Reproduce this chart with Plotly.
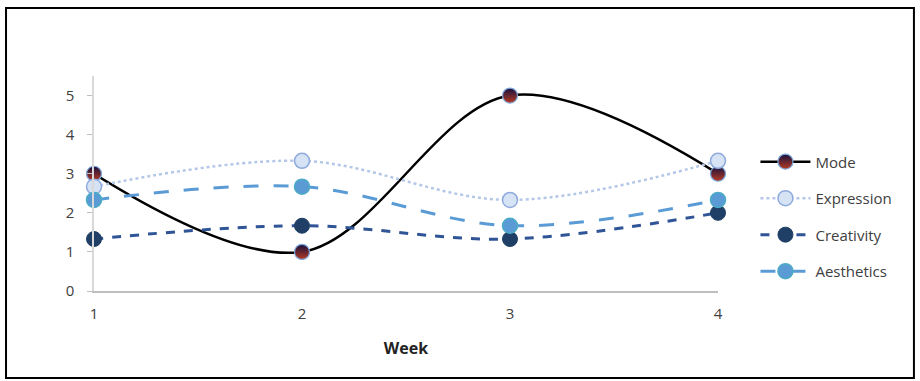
import plotly.graph_objects as go

weeks = [1, 2, 3, 4]
mode = [3, 1, 5, 3]
expression = [2.67, 3.33, 2.33, 3.33]
creativity = [1.33, 1.67, 1.33, 2.0]
aesthetics = [2.33, 2.67, 1.67, 2.33]
y_ticks = [0, 1, 2, 3, 4, 5]

fig = go.Figure()

fig.add_trace(go.Scatter(
    x=weeks, y=mode, name="Mode", mode="lines+markers", legendgroup="a",
    line=dict(color="black", width=2.5, shape="spline", smoothing=1.0),
    marker=dict(size=15, color="#15113f",
                gradient=dict(type="vertical", color="#b83a22"),
                line=dict(color="#7fa8dc", width=1.2)),
))
fig.add_trace(go.Scatter(
    x=weeks, y=expression, name="Expression", mode="lines+markers", legendgroup="b",
    line=dict(color="#b4c7e7", width=2.5, dash="dot", shape="spline", smoothing=1.0),
    marker=dict(size=15, color="#d5e3f5", line=dict(color="#8faadc", width=1.5)),
))
fig.add_trace(go.Scatter(
    x=weeks, y=creativity, name="Creativity", mode="lines+markers", legendgroup="c",
    line=dict(color="#2f5597", width=3, dash="dash", shape="spline", smoothing=1.0),
    marker=dict(size=15, color="#1f3f66", line=dict(color="#1f3f66", width=1)),
))
fig.add_trace(go.Scatter(
    x=weeks, y=aesthetics, name="Aesthetics", mode="lines+markers", legendgroup="d",
    line=dict(color="#5b9bd5", width=3, dash="longdash", shape="spline", smoothing=1.0),
    marker=dict(size=15, color="#5b9bd5", line=dict(color="#4bacc6", width=1.5)),
))

fig.update_traces(cliponaxis=False)

fig.update_layout(
    width=920, height=381,
    margin=dict(l=94, r=202, t=76, b=90),
    paper_bgcolor="white", plot_bgcolor="white",
    font=dict(family="Open Sans, Liberation Sans, sans-serif", color="#404040", size=15),
    showlegend=True,
    legend=dict(x=1.06, y=0.347, xanchor="left", yanchor="middle",
                font=dict(size=15, color="#404040"), tracegroupgap=14,
                bgcolor="rgba(0,0,0,0)", itemwidth=50),
    xaxis=dict(range=[1, 4], tickvals=weeks, ticktext=[str(w) for w in weeks],
               showgrid=False, zeroline=False, showline=True, linecolor="#bfbfbf",
               linewidth=1.5, ticks="", ticklabelstandoff=8,
               title=dict(text="<b>Week</b>", font=dict(size=16, color="#222"), standoff=21)),
    yaxis=dict(range=[0, 5.5], tickvals=y_ticks, showgrid=False, zeroline=False,
               showline=True, linecolor="#d9d9d9", linewidth=1.5,
               ticks="outside", ticklen=5, tickcolor="#bfbfbf", ticklabelstandoff=10),
    shapes=[dict(type="rect", xref="paper", yref="paper",
                 x0=-0.141, x1=1.314, y0=-0.405, y1=1.316,
                 line=dict(color="black", width=2), fillcolor="rgba(0,0,0,0)")],
)

fig.write_html("out.html", config={"displayModeBar": False},
               post_script="document.body.style.margin='0';document.body.style.overflow='hidden';")
